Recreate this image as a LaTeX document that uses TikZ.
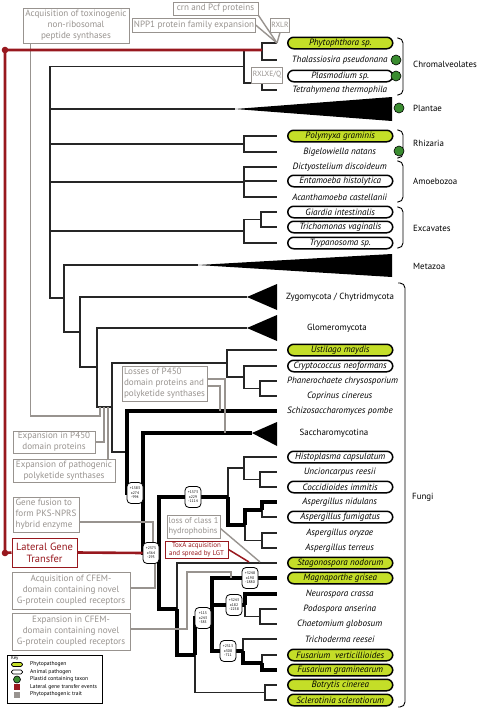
\documentclass[tikz,border=0pt]{standalone}
\usepackage{fontspec}
\setmainfont{PT Sans}
\usetikzlibrary{positioning}
\definecolor{phytogreen}{RGB}{196,222,40}
\definecolor{plastidgreen}{RGB}{58,140,48}
\definecolor{lgtred}{RGB}{152,24,30}
\definecolor{traitgray}{RGB}{152,147,143}
\tikzset{tree edge/.style={to path={|- (\tikztotarget)}}}
\begin{document}
\begin{tikzpicture}[x=1pt,y=-1pt,
  branch/.style={line width=1.1pt,black!85,tree edge},
  fatbranch/.style={line width=4pt,black,line join=miter,tree edge},
  taxon/.style={font=\fontsize{9.1}{10}\selectfont\itshape,minimum width=105pt,minimum height=11.5pt,inner sep=0pt},
  phyto/.style={taxon,draw,line width=1.5pt,rounded corners=6pt,fill=phytogreen},
  animal/.style={taxon,draw,line width=1.5pt,rounded corners=6pt,fill=white},
  clade/.style={font=\fontsize{8.9}{10}\selectfont,anchor=west,inner sep=0pt},
  bracket/.style={line width=0.9pt,rounded corners=5pt},
  plastid/.style={circle,draw,line width=0.6pt,fill=plastidgreen,minimum size=10pt,inner sep=0pt},
  trait/.style={draw=traitgray,line width=1pt,fill=white,text=traitgray,font=\fontsize{9.1}{11}\selectfont,inner sep=1pt,align=center},
  traitline/.style={traitgray,line width=1.4pt},
  lgtbox/.style={draw=lgtred,line width=1pt,fill=white,text=lgtred,align=center},
  lgtline/.style={lgtred,line width=2.6pt},
  counts/.style={draw,fill=white,line width=0.8pt,rounded corners=4pt,font=\fontsize{3.8}{4.5}\selectfont,align=center,inner sep=0.5pt,minimum width=16pt,minimum height=21pt},
  keytext/.style={font=\fontsize{5.6}{7}\selectfont,anchor=west,inner sep=0pt}]
\useasboundingbox (0,0) rectangle (478,710);
% inner nodes of the tree
\coordinate (root) at (50,182);
\coordinate (chrom) at (244,66.5);
\coordinate (pt) at (262,50);
\coordinate (ptt) at (262,83);
\coordinate (plaA) at (235,109);
\coordinate (rhiz) at (244,144);
\coordinate (amoeb) at (244,182);
\coordinate (excav) at (244,231);
\coordinate (gt) at (261,219.5);
\coordinate (opis) at (64,298);
\coordinate (metA) at (198,265);
\coordinate (fun1) at (80,332);
\coordinate (zygA) at (247,297);
\coordinate (fun2) at (97,367);
\coordinate (gloA) at (247,328);
\coordinate (dik) at (112,407);
\coordinate (basid) at (227,363);
\coordinate (agar) at (244,377);
\coordinate (pcop) at (260,388.5);
\coordinate (asco) at (127,452);
\coordinate (ascoB) at (143,493);
\coordinate (sacA) at (252,433);
\coordinate (pez) at (159,553);
\coordinate (euro) at (228,497);
\coordinate (onyg) at (244,468);
\coordinate (uc) at (260,479.5);
\coordinate (asp) at (245,525);
\coordinate (an) at (262,509.5);
\coordinate (ao) at (262,540.5);
\coordinate (dsl) at (177,609);
\coordinate (sl) at (195,655);
\coordinate (sord) at (212,618);
\coordinate (npc) at (245,605);
\coordinate (pc) at (260,616.5);
\coordinate (hypo) at (243,651);
\coordinate (fus) at (262,662.5);
\coordinate (leo) at (265,692.5);
% tips
\coordinate (phy) at (277,43);
\coordinate (tha) at (277,60);
\coordinate (pla) at (277,76);
\coordinate (tet) at (277,90);
\coordinate (pol) at (277,136);
\coordinate (big) at (277,152);
\coordinate (dic) at (277,167);
\coordinate (ent) at (277,181);
\coordinate (aca) at (277,197);
\coordinate (gia) at (277,212);
\coordinate (tri) at (277,227);
\coordinate (try) at (277,243);
\coordinate (ust) at (277,350);
\coordinate (cry) at (277,366);
\coordinate (pha) at (277,381);
\coordinate (cop) at (277,396);
\coordinate (sch) at (277,411);
\coordinate (his) at (277,457);
\coordinate (unc) at (277,472);
\coordinate (coc) at (277,487);
\coordinate (ani) at (277,502);
\coordinate (afu) at (277,517);
\coordinate (aor) at (277,533);
\coordinate (ate) at (277,548);
\coordinate (sta) at (277,563);
\coordinate (mag) at (277,578);
\coordinate (neu) at (277,594);
\coordinate (pod) at (277,609);
\coordinate (cha) at (277,624);
\coordinate (tre) at (277,639);
\coordinate (fve) at (277,655);
\coordinate (fgr) at (277,670);
\coordinate (bot) at (277,685);
\coordinate (scl) at (277,700);

\begin{scope}
\draw[branch] (root) edge (chrom) edge (plaA) edge (rhiz) edge (amoeb) edge (excav) edge (opis);
\draw[branch] (chrom) edge (pt) edge (ptt);
\draw[branch] (pt) edge (phy) edge (tha);
\draw[branch] (ptt) edge (pla) edge (tet);
\draw[branch] (rhiz) edge (pol) edge (big);
\draw[branch] (amoeb) edge (dic) edge (ent) edge (aca);
\draw[branch] (excav) edge (gt) edge (try);
\draw[branch] (gt) edge (gia) edge (tri);
\draw[branch] (opis) edge (metA) edge (fun1);
\draw[branch] (fun1) edge (zygA) edge (fun2);
\draw[branch] (fun2) edge (gloA) edge (dik);
\draw[branch] (dik) edge (basid) edge (asco);
\draw[branch] (basid) edge (ust) edge (agar);
\draw[branch] (agar) edge (cry) edge (pcop);
\draw[branch] (pcop) edge (pha) edge (cop);
\draw[branch] (euro) edge (onyg);
\draw[branch] (onyg) edge (his) edge (uc);
\draw[branch] (uc) edge (unc) edge (coc);
\draw[branch] (asp) edge (ao);
\draw[branch] (an) edge (afu);
\draw[branch] (ao) edge (aor) edge (ate);
\draw[branch] (dsl) edge (sta);
\draw[branch] (sl) edge (leo);
\draw[branch] (npc) edge (pc);
\draw[branch] (pc) edge (pod) edge (cha);
\draw[branch] (hypo) edge (tre);
\draw[branch] (fus) edge (fve);
\draw[branch] (leo) edge (bot) edge (scl);
%\draw[fatbranch] () edge ();
\draw[fatbranch] (asco) edge (sch) edge (ascoB);
\draw[fatbranch] (ascoB) edge (sacA) edge (pez);
\draw[fatbranch] (pez) edge (euro) edge (dsl);
\draw[fatbranch] (euro) edge (asp);
\draw[fatbranch] (asp) edge (an);
\draw[fatbranch] (an) edge (ani);
\draw[fatbranch] (dsl) edge (sl);
\draw[fatbranch] (sl) edge (sord);
\draw[fatbranch] (sord) edge (mag) edge (npc) edge (hypo);
\draw[fatbranch] (npc) edge (neu);
\draw[fatbranch] (hypo) edge (fus);
\draw[fatbranch] (fus) edge (fgr);
\end{scope}

% collapsed clades
\fill (plaA) -- (392,97) -- (392,121) -- cycle;
\fill (metA) -- (392,254) -- (392,277) -- cycle;
\fill (zygA) -- (277,284) -- (277,310) -- cycle;
\fill (gloA) -- (277,315) -- (277,341) -- cycle;
\fill (sacA) -- (277,422) -- (277,446) -- cycle;

\begin{scope}[node distance=10pt]
\node[phyto,right=of phy] (phyL) {Phytophthora sp.};
\node[taxon,right=of tha] (thaL) {Thalassiosira pseudonana};
\node[animal,right=of pla] (plaL) {Plasmodium sp.};
\node[taxon,right=of tet] (tetL) {Tetrahymena thermophila};
\node[phyto,right=of pol] (polL) {Polymyxa graminis};
\node[taxon,right=of big] (bigL) {Bigelowiella natans};
\node[taxon,right=of dic] (dicL) {Dictyostelium discoideum};
\node[animal,right=of ent] (entL) {Entamoeba histolytica};
\node[taxon,right=of aca] (acaL) {Acanthamoeba castellanii};
\node[animal,right=of gia] (giaL) {Giardia intestinalis};
\node[animal,right=of tri] (triL) {Trichomonas vaginalis};
\node[animal,right=of try] (tryL) {Trypanosoma sp.};
\node[phyto,right=of ust] (ustL) {Ustilago maydis};
\node[animal,right=of cry] (cryL) {Cryptococcus neoformans};
\node[taxon,right=of pha] (phaL) {Phanerochaete chrysosporium};
\node[taxon,right=of cop] (copL) {Coprinus cinereus};
\node[taxon,right=of sch] (schL) {Schizosaccharomyces pombe};
\node[animal,right=of his] (hisL) {Histoplasma capsulatum};
\node[taxon,right=of unc] (uncL) {Uncioncarpus reesii};
\node[animal,right=of coc] (cocL) {Coccidioides immitis};
\node[taxon,right=of ani] (aniL) {Aspergillus nidulans};
\node[animal,right=of afu] (afuL) {Aspergillus fumigatus};
\node[taxon,right=of aor] (aorL) {Aspergillus oryzae};
\node[taxon,right=of ate] (ateL) {Aspergillus terreus};
\node[phyto,right=of sta] (staL) {Stagonospora nodorum};
\node[phyto,right=of mag] (magL) {Magnaporthe grisea};
\node[taxon,right=of neu] (neuL) {Neurospora crassa};
\node[taxon,right=of pod] (podL) {Podospora anserina};
\node[taxon,right=of cha] (chaL) {Chaetomium globosum};
\node[taxon,right=of tre] (treL) {Trichoderma reesei};
\node[phyto,right=of fve] (fveL) {Fusarium\ \ verticillioides};
\node[phyto,right=of fgr] (fgrL) {Fusarium graminearum};
\node[phyto,right=of bot] (botL) {Botrytis cinerea};
\node[phyto,right=of scl] (sclL) {Sclerotinia sclerotiorum};
\end{scope}

\node[clade,anchor=center] (zygL) at (340,297) {Zygomycota / Chytridmycota};
\node[clade,anchor=center] (gloL) at (337,328) {Glomeromycota};
\node[clade,anchor=center] (sacL) at (334,433) {Saccharomycotina};
\node[clade] (chromL) at (413,64) {Chromalveolates};
\node[clade] (plaeL) at (413,108) {Plantae};
\node[clade] (rhizL) at (413,143) {Rhizaria};
\node[clade] (amoebL) at (413,181) {Amoebozoa};
\node[clade] (excavL) at (413,228) {Excavates};
\node[clade] (metL) at (413,266) {Metazoa};
\node[clade] (fungiL) at (412,497) {Fungi};
\draw[bracket] (397,38) -- (403,38) -- (403,95) -- (397,95);
\draw[bracket] (397,130) -- (403,130) -- (403,158) -- (397,158);
\draw[bracket] (397,161) -- (403,161) -- (403,202) -- (397,202);
\draw[bracket] (397,207) -- (403,207) -- (403,248) -- (397,248);
\draw[bracket] (398,283) -- (405,283) -- (405,707) -- (398,707);
\node[plastid] (d1) at (396,60) {};
\node[plastid] (d2) at (396,76) {};
\node[plastid] (d3) at (399,108) {};
\node[plastid] (d4) at (399,151) {};

% phytopathogenic traits
\node[trait,minimum width=106pt,minimum height=35pt] (toxin) at (76,25.5) {Acquisition of toxinogenic\\non-ribosomal\\peptide synthases};
\node[trait,minimum width=85pt,minimum height=13pt] (crn) at (215.5,8.5) {crn and Pcf proteins};
\node[trait,minimum width=122pt,minimum height=14pt] (npp) at (194,25) {NPP1 protein family expansion};
\node[trait,minimum height=14pt,font=\fontsize{7.5}{8}\selectfont] (rxlr) at (280,25) {RXLR};
\node[trait,minimum height=16pt,font=\fontsize{7.5}{8}\selectfont] (rxlxe) at (267,75) {RXLXE/Q};
\node[trait,align=left,minimum width=85pt,minimum height=35pt] (loss) at (164.5,383.5) {Losses of P450\\domain proteins and\\polyketide synthases};
\node[trait,minimum width=82pt,minimum height=22pt] (p450) at (54,442) {Expansion in P450\\domain proteins};
\node[trait,minimum width=102pt,minimum height=23pt] (polyk) at (64,470.5) {Expansion of pathogenic\\polyketide synthases};
\node[trait,align=left,minimum width=66pt,minimum height=35pt] (fusion) at (46,514.5) {Gene fusion to\\form PKS-NPRS\\hybrid enzyme};
\node[trait,align=left,minimum width=53pt,minimum height=23pt,font=\fontsize{8.4}{10.5}\selectfont] (hydro) at (193.5,526.5) {loss of class 1\\hydrophobins};
\node[trait,minimum width=118pt,minimum height=37pt] (cfemacq) at (71,590.5) {Acquisition of CFEM-\\domain containing novel\\G-protein coupled receptors};
\node[trait,minimum width=118pt,minimum height=37pt] (cfemexp) at (71,631.5) {Expansion in CFEM-\\domain containing novel\\G-protein coupled receptors};
\node[lgtbox,font=\fontsize{7}{8}\selectfont,minimum width=63pt,minimum height=17pt,inner sep=1pt] (toxa) at (196.5,549.5) {ToxA acquisition\\and spread by LGT};
\node[lgtbox,font=\fontsize{10.5}{12}\selectfont,minimum width=65pt,minimum height=29pt,inner sep=1pt] (lgt) at (44.5,552.5) {Lateral Gene\\Transfer};

% gene counts on branches
\node[counts] (c1) at (135,493) {+1583\\x274\\-994};
\node[counts] (c2) at (193,497) {+1573\\x229\\-1114};
\node[counts] (c3) at (151,553) {+2375\\x364\\-293};
\node[counts] (c4) at (203,618) {+115\\x243\\-585};
\node[counts] (c5) at (228,651) {+2513\\x308\\-711};
\node[counts] (c6) at (250,578) {+3248\\x190\\-1880};
\node[counts] (c7) at (234,605) {+3243\\x182\\-2258};

% where the traits meet the tree
\coordinate (toxbend) at (100,416);
\coordinate (toxend) at (100,407);
\coordinate (p450end) at (104,407);
\coordinate (polyend) at (108,407);
\coordinate (lossend1) at (225,433);
\coordinate (lossend2) at (220,411);
\coordinate (cfemmid) at (187,572);
\coordinate (cfemend) at (231,578);
\coordinate (hydroend) at (260,562);
\coordinate (toxaend) at (249,562);
\coordinate (lgttop) at (5,50);
\coordinate (lgtbot) at (5,553);

\draw[traitline] (toxin.south west) ++(8,0) |- (toxbend) -- (toxend);
\draw[traitline] (p450.east) -| (p450end);
\draw[traitline] (polyk.north -| polyend) -- (polyend);
\draw[traitline] ([yshift=4.5pt]loss.east) -| (lossend1);
\draw[traitline] ([yshift=-2.5pt]loss.east) -| (lossend2);
\draw[traitline] ([yshift=-7.5pt]fusion.east) -| ([xshift=2pt]c3.north);
\draw[traitline] ([yshift=2.5pt]cfemacq.east) -| ([xshift=4pt]c3.south);
\draw[traitline] ([yshift=2.5pt]cfemexp.east) -| (cfemmid) -| (cfemend);
\draw[traitline] (crn.south east) -- (phy);
\draw[traitline] (npp.east) -- (phy);
\draw[traitline] (rxlr.south) -- (phy);
\draw[traitline] ([yshift=-2pt]hydro.east) -- (hydroend);
\draw[lgtred,line width=1.5pt] (toxa.east) -- (toxaend);
\draw[lgtline] (pt) -- (lgttop) -- (lgtbot) -- (lgt.west);
\draw[lgtline] (lgt.east) -- (c3.west);
\fill[lgtred] (lgttop) circle (3.3) (lgtbot) circle (3.3);

% key
\node[draw,line width=1pt,minimum width=95pt,minimum height=48pt,anchor=north west,inner sep=0pt] (key) at (7,655) {};
\node[keytext,font=\fontsize{4.8}{5}\selectfont] (keyL) at (11,658.5) {Key};
\node[draw,line width=0.8pt,rounded corners=1.6pt,fill=phytogreen,minimum width=11pt,minimum height=4pt,inner sep=0pt] (k1) at (17,664.5) {};
\node[draw,line width=0.8pt,rounded corners=1.6pt,fill=white,minimum width=11pt,minimum height=4pt,inner sep=0pt] (k2) at (17,672) {};
\node[plastid,minimum size=7pt] (k3) at (17,679.5) {};
\node[fill=lgtred,minimum size=6pt,inner sep=0pt] (k4) at (17,687) {};
\node[fill=traitgray,minimum size=6pt,inner sep=0pt] (k5) at (17,694.5) {};
\node[keytext] (k1L) at (30,664.5) {Phytopathogen};
\node[keytext] (k2L) at (30,672) {Animal pathogen};
\node[keytext] (k3L) at (30,679.5) {Plastid containing taxon};
\node[keytext] (k4L) at (30,687) {Lateral gene transfer events};
\node[keytext] (k5L) at (30,694.5) {Phytopathogenic trait};
\end{tikzpicture}
\end{document}
